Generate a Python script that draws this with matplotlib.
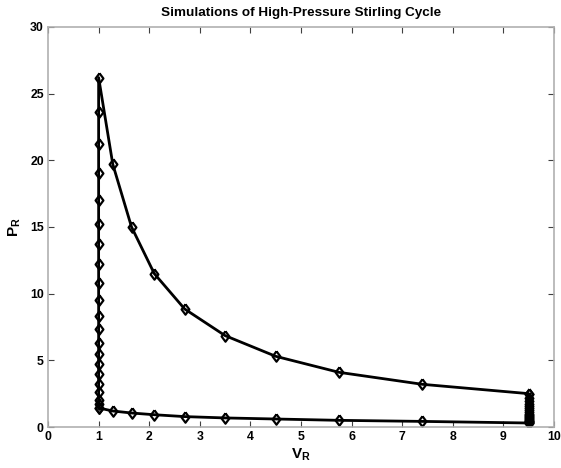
import numpy as np
import matplotlib
matplotlib.use('Agg')
import matplotlib.pyplot as plt

plt.rcParams['font.family'] = ['Liberation Sans', 'DejaVu Sans']
plt.rcParams['font.weight'] = 'bold'
plt.rcParams['mathtext.fontset'] = 'custom'
plt.rcParams['mathtext.rm'] = 'Liberation Sans:bold'
plt.rcParams['mathtext.bf'] = 'Liberation Sans:bold'

# Isothermal compression (low temperature), V from 9.5 down to 1
v_comp = [9.5, 7.4, 5.75, 4.5, 3.5, 2.7, 2.1, 1.65, 1.28, 1.0]
p_comp = [0.30, 0.42, 0.50, 0.60, 0.68, 0.78, 0.92, 1.05, 1.20, 1.43]

# Isochoric heating at V = 1
v_heat = [1.0] * 20
p_heat = [1.43, 1.75, 2.0, 2.65, 3.25, 4.0, 4.75, 5.5, 6.3, 7.35,
          8.35, 9.55, 10.8, 12.2, 13.7, 15.25, 17.05, 19.05, 21.2, 23.6]

# Isothermal expansion (high temperature), V from 1 up to 9.5
v_exp = [1.0, 1.28, 1.65, 2.1, 2.7, 3.5, 4.5, 5.75, 7.4, 9.5]
p_exp = [26.2, 19.7, 15.0, 11.5, 8.85, 6.85, 5.3, 4.1, 3.2, 2.5]

# Isochoric cooling at V = 9.5
v_cool = [9.5] * 20
p_cool = [2.5, 2.2, 1.95, 1.75, 1.55, 1.4, 1.25, 1.1, 1.0, 0.91,
          0.81, 0.73, 0.65, 0.58, 0.52, 0.47, 0.42, 0.37, 0.34, 0.30]

v_all = v_comp + v_heat + v_exp + v_cool
p_all = p_comp + p_heat + p_exp + p_cool

# matlab-like diamond, a little taller than wide
diamond = [(0, 1), (0.75, 0), (0, -1), (-0.75, 0), (0, 1)]

fig = plt.figure(figsize=(5.61, 4.68), dpi=100)
ax = fig.add_axes([0.0856, 0.0876, 0.902, 0.855])

ax.plot(v_all, p_all, color='black', linewidth=2, marker=diamond, markersize=7.5,
        markerfacecolor='none', markeredgecolor='black', markeredgewidth=1.6)

ax.set_xlim(0, 10)
ax.set_ylim(0, 30)
ax.set_xticks(range(0, 11))
ax.set_yticks(range(0, 31, 5))

for s in ax.spines.values():
    s.set_color('#b0b0b0')
    s.set_linewidth(1.2)
ax.tick_params(direction='in', length=4, width=0.8, color='#404040',
               top=True, right=True, labelsize=8.8, pad=3)
for lab in ax.get_xticklabels() + ax.get_yticklabels():
    lab.set_fontweight('bold')

ax.set_title('Simulations of High-Pressure Stirling Cycle', fontsize=9.7,
             fontweight='bold', pad=8)
ax.set_xlabel(r'V$_\mathrm{R}$', fontsize=11, fontweight='bold', labelpad=2)
ax.set_ylabel(r'P$_\mathrm{R}$', fontsize=11, fontweight='bold', labelpad=5)

plt.savefig('out.png', dpi=100)
